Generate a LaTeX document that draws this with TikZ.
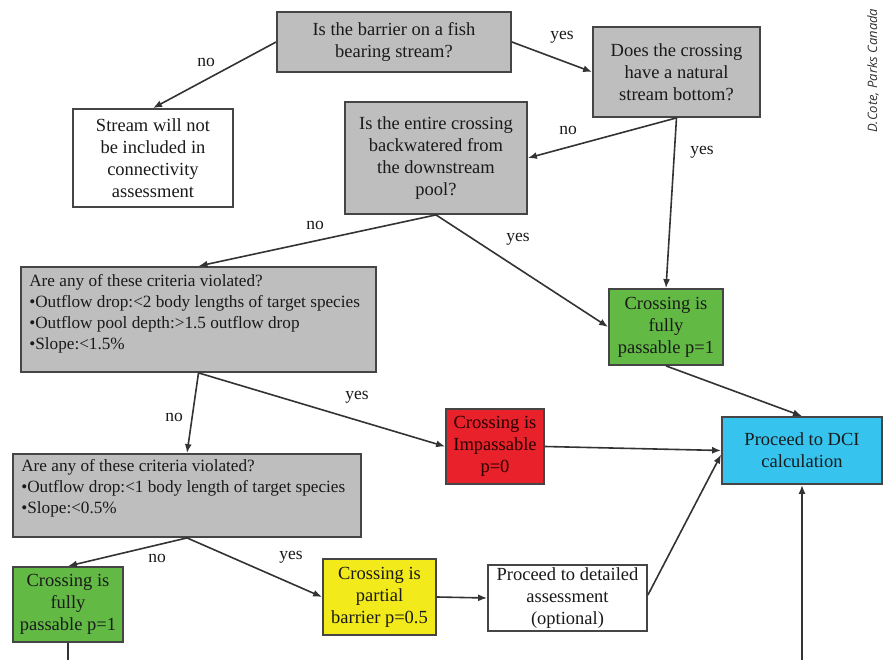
\documentclass[tikz,border=0pt]{standalone}
\usepackage{fontspec}
\setmainfont{Liberation Serif}
\newfontfamily\bodyserif{Liberation Serif}
\newfontfamily\creditfont{Open Sans}
\usetikzlibrary{arrows.meta,calc}

\definecolor{boxgray}{HTML}{BEBEBE}
\definecolor{passgreen}{HTML}{62BA45}
\definecolor{stopred}{HTML}{E9212A}
\definecolor{partyellow}{HTML}{F2EA1B}
\definecolor{dciblue}{HTML}{36C4EF}
\definecolor{edgecol}{HTML}{454545}
\definecolor{linecol}{HTML}{333333}
\definecolor{txt}{HTML}{1A1A1A}

\begin{document}
\begin{tikzpicture}[x=1pt,y=-1pt,
  box/.style={draw=edgecol, line width=1.8pt, align=center, inner sep=0pt,
    text=txt, font=\bodyserif\fontsize{18.5}{22}\selectfont},
  question/.style={box, fill=boxgray},
  listtext/.style={align=left, inner sep=0pt, anchor=north west, text=txt,
    font=\bodyserif\fontsize{17.2}{21}\selectfont},
  conn/.style={draw=linecol, line width=1.6pt, -{Latex[length=9pt,width=7pt]}},
  plain/.style={draw=linecol, line width=1.6pt},
  lbl/.style={inner sep=0pt, text=txt, font=\bodyserif\fontsize{17.5}{20}\selectfont},
  credit/.style={inner sep=0pt, text=black!80, font=\creditfont\itshape\fontsize{13}{15}\selectfont}
]
\useasboundingbox (0,0) rectangle (887,660);

% question boxes
\node[question, minimum width=234pt, minimum height=60pt] (a) at (394,42)
  {Is the barrier on a fish\\bearing stream?};
\node[question, minimum width=167pt, minimum height=90pt] (b) at (676.5,72)
  {Does the crossing\\have a natural\\stream bottom?};
\node[question, minimum width=182pt, minimum height=112pt] (c) at (436,158)
  {Is the entire crossing\\backwatered from\\the downstream\\pool?};
\node[question, minimum width=355pt, minimum height=105pt] (d) at (198.5,319.5) {};
\node[listtext] (dtext) at ($(d.north west)+(9,8)$)
  {Are any of these criteria violated?\\
   •Outflow drop:<2 body lengths of target species\\
   •Outflow pool depth:>1.5 outflow drop\\
   •Slope:<1.5\%};
\node[question, minimum width=348pt, minimum height=83pt] (e) at (187,495.5) {};
\node[listtext] (etext) at ($(e.north west)+(9,6)$)
  {Are any of these criteria violated?\\
   •Outflow drop:<1 body length of target species\\
   •Slope:<0.5\%};

% outcome boxes
\node[box, fill=white, minimum width=160pt, minimum height=98pt] (s) at (153,158)
  {Stream will not\\be included in\\connectivity\\assessment};
\node[box, fill=passgreen, minimum width=114pt, minimum height=76pt] (k) at (666,327)
  {Crossing is\\fully\\passable p=1};
\node[box, fill=passgreen, minimum width=110pt, minimum height=75pt] (f) at (68,604.5)
  {Crossing is\\fully\\passable p=1};
\node[box, fill=stopred, text=black!85!red, minimum width=98pt, minimum height=75pt] (h) at (495,446.5)
  {Crossing is\\Impassable\\p=0};
\node[box, fill=partyellow, minimum width=113pt, minimum height=76pt] (g) at (379.5,597)
  {Crossing is\\partial\\barrier p=0.5};
\node[box, fill=white, minimum width=159pt, minimum height=66pt] (i) at (567.5,598)
  {Proceed to detailed\\assessment\\(optional)};
\node[box, fill=dciblue, minimum width=160pt, minimum height=67pt] (j) at (802,450.5)
  {Proceed to DCI\\calculation};

% connectors
\draw[conn] (a.west) -- (s.north);
\draw[conn] (a.east) -- (b.west);
\draw[conn] (b.south) -- (c.east);
\draw[conn] (b.south) -- (k.north);
\draw[conn] (c.south) -- (d.north);
\draw[conn] (c.south) -- (k.west);
\draw[conn] (d.south) -- (e.north);
\draw[conn] (d.south) -- (h.west);
\draw[conn] (e.south) -- (f.north);
\draw[conn] (e.south) -- (g.west);
\draw[conn] (g.east) -- (i.west);
\draw[conn] (k.south) -- (j.north);
\draw[conn] (h.east) -- (j.west);
\draw[conn] ($(i.east)+(0,-3)$) -- ($(j.west)+(0,4)$);
\coordinate (jin) at (802,660);
\draw[conn] (jin) -- (j.south);
\coordinate (fout) at (68,660);
\draw[plain] (f.south) -- (fout);

% branch labels
\node[lbl] (l1) at (206,62) {no};
\node[lbl] (l2) at (562,37) {yes};
\node[lbl] (l3) at (568,130) {no};
\node[lbl] (l4) at (702,152) {yes};
\node[lbl] (l5) at (315,225) {no};
\node[lbl] (l6) at (518,239) {yes};
\node[lbl] (l7) at (174,417) {no};
\node[lbl] (l8) at (357,397) {yes};
\node[lbl] (l9) at (157,558) {no};
\node[lbl] (l10) at (291,557) {yes};

% photo credit
\node[credit, rotate=90, anchor=west] (cr) at (873,133) {D.Cote, Parks Canada};
\end{tikzpicture}
\end{document}
